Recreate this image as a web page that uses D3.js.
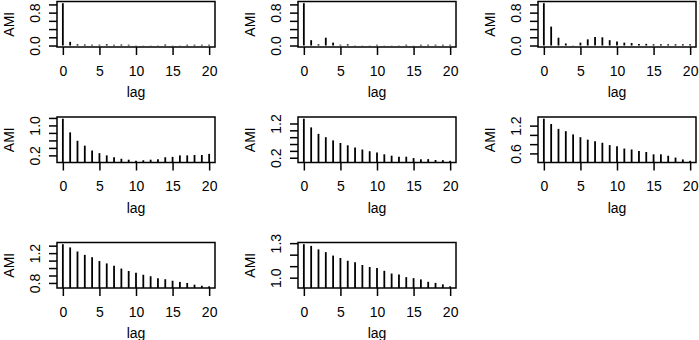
<!DOCTYPE html>
<html>
<head>
<meta charset="utf-8">
<script src="https://cdn.jsdelivr.net/npm/d3@7"></script>
<style>
body { margin: 0; background: #ffffff; }
text { font-family: "Liberation Sans", Arial, sans-serif; fill: #000000; }
</style>
</head>
<body>
<div id="vis"></div>
<script>
// setting constants
const FRAME_WIDTH = 699;
const FRAME_HEIGHT = 340;
const BOX_LEFT = [57, 298, 538];
const BOX_WIDTH = 158;
const BOX_TOP = [1.5, 117, 242.5];
const BOX_HEIGHT = 45.5;
const FONT_SIZE = 14;

// data: lags and AMI values, one array per panel
const LAGS = [0, 1, 2, 3, 4, 5, 6, 7, 8, 9, 10, 11, 12, 13, 14, 15, 16, 17, 18, 19, 20];
const X_TICKS = [0, 5, 10, 15, 20];

const AMI_1 = [1.03, 0.09, 0.03, 0.025, 0.02, 0.02, 0.03, 0.02, 0.025, 0.02, 0.005,
	0.005, 0.005, 0.005, 0.025, 0.005, 0.005, 0.02, 0.02, 0.02, 0.02];
const AMI_2 = [1.03, 0.13, 0.03, 0.19, 0.07, 0.02, 0.03, 0.005, 0.005, 0.005, 0.02,
	0.005, 0.005, 0.005, 0.02, 0.005, 0.02, 0.02, 0.02, 0.02, 0.02];
const AMI_3 = [1.03, 0.46, 0.19, 0.05, 0.005, 0.07, 0.15, 0.21, 0.2, 0.13, 0.1,
	0.07, 0.06, 0.04, 0.04, 0.03, 0.03, 0.03, 0.03, 0.03, 0.03];
const AMI_4 = [1.18, 0.815, 0.59, 0.46, 0.33, 0.26, 0.2, 0.15, 0.11, 0.085, 0.055,
	0.07, 0.085, 0.1, 0.15, 0.16, 0.2, 0.2, 0.21, 0.21, 0.24];
const AMI_5 = [1.34, 1.086, 0.897, 0.8, 0.706, 0.63, 0.563, 0.497, 0.44, 0.39, 0.35,
	0.3, 0.26, 0.23, 0.23, 0.19, 0.155, 0.16, 0.135, 0.13, 0.11];
const AMI_6 = [1.35, 1.236, 1.13, 1.08, 1.01, 0.95, 0.897, 0.86, 0.83, 0.78, 0.755,
	0.705, 0.685, 0.65, 0.63, 0.58, 0.58, 0.55, 0.51, 0.47, 0.44];
const AMI_7 = [1.32, 1.277, 1.222, 1.177, 1.145, 1.094, 1.062, 1.03, 0.993, 0.96, 0.938,
	0.91, 0.89, 0.863, 0.85, 0.83, 0.814, 0.8, 0.777, 0.763, 0.755];
const AMI_8 = [1.291, 1.276, 1.246, 1.222, 1.192, 1.171, 1.147, 1.135, 1.11, 1.093, 1.084,
	1.06, 1.036, 1.027, 1.005, 0.996, 0.985, 0.964, 0.955, 0.942, 0.925];

// y tick marks and the tick labels that are shown
const Y_TICKS_1 = [0.0, 0.2, 0.4, 0.6, 0.8, 1.0];
const Y_LABELS_1 = [0.0, 0.8];
const Y_TICKS_4 = [0.2, 0.4, 0.6, 0.8, 1.0, 1.2];
const Y_LABELS_4 = [0.2, 1.0];
const Y_TICKS_5 = [0.2, 0.4, 0.6, 0.8, 1.0, 1.2];
const Y_LABELS_5 = [0.2, 1.2];
const Y_TICKS_6 = [0.6, 0.8, 1.0, 1.2];
const Y_LABELS_6 = [0.6, 1.2];
const Y_TICKS_7 = [0.8, 0.9, 1.0, 1.1, 1.2, 1.3];
const Y_LABELS_7 = [0.8, 1.2];
const Y_TICKS_8 = [1.0, 1.1, 1.2, 1.3];
const Y_LABELS_8 = [1.0, 1.3];

const PANELS = [
	{ami: AMI_1, yTicks: Y_TICKS_1, yLabels: Y_LABELS_1},
	{ami: AMI_2, yTicks: Y_TICKS_1, yLabels: Y_LABELS_1},
	{ami: AMI_3, yTicks: Y_TICKS_1, yLabels: Y_LABELS_1},
	{ami: AMI_4, yTicks: Y_TICKS_4, yLabels: Y_LABELS_4},
	{ami: AMI_5, yTicks: Y_TICKS_5, yLabels: Y_LABELS_5},
	{ami: AMI_6, yTicks: Y_TICKS_6, yLabels: Y_LABELS_6},
	{ami: AMI_7, yTicks: Y_TICKS_7, yLabels: Y_LABELS_7},
	{ami: AMI_8, yTicks: Y_TICKS_8, yLabels: Y_LABELS_8}
];

// adding frame
const FRAME = d3.select("#vis")
	.append("svg")
	.attr("width", FRAME_WIDTH)
	.attr("height", FRAME_HEIGHT);

PANELS.forEach((p, i) => {
	const col = i % 3;
	const row = Math.floor(i / 3);
	const left = BOX_LEFT[col];
	const top = BOX_TOP[row];
	const bottom = top + BOX_HEIGHT;

	// R style 4% padding on both axes
	const X_SCALE = d3.scaleLinear()
		.domain([-0.8, 20.8])
		.range([left, left + BOX_WIDTH]);

	const lo = d3.min(p.ami);
	const hi = d3.max(p.ami);
	const pad = 0.04 * (hi - lo);
	const Y_SCALE = d3.scaleLinear()
		.domain([lo - pad, hi + pad])
		.range([bottom, top]);

	// lines start at 0, clipped to the plot box
	const base = Y_SCALE(Math.max(0, lo - pad));

	const G = FRAME.append("g");

	G.selectAll(".hline")
		.data(LAGS)
		.enter()
		.append("line")
			.attr("x1", (d) => X_SCALE(d))
			.attr("x2", (d) => X_SCALE(d))
			.attr("y1", base)
			.attr("y2", (d) => Y_SCALE(p.ami[d]))
			.attr("stroke", "#000")
			.attr("stroke-width", 1.8);

	// x axis
	G.append("g")
		.attr("transform", "translate(0," + bottom + ")")
		.call(d3.axisBottom(X_SCALE).tickValues(X_TICKS).tickSize(8).tickSizeOuter(0))
		.call((g) => g.select(".domain").remove())
		.call((g) => g.selectAll(".tick line").attr("stroke-width", 1.5))
		.call((g) => g.selectAll(".tick text")
			.attr("y", 24)
			.attr("dy", "0.35em")
			.attr("font-size", FONT_SIZE));

	// y axis, labels parallel to the axis
	G.append("g")
		.attr("transform", "translate(" + left + ",0)")
		.call(d3.axisLeft(Y_SCALE)
			.tickValues(p.yTicks)
			.tickSize(8)
			.tickSizeOuter(0)
			.tickFormat((d) => p.yLabels.includes(d) ? d3.format(".1f")(d) : ""))
		.call((g) => g.select(".domain").remove())
		.call((g) => g.selectAll(".tick line").attr("stroke-width", 1.5))
		.call((g) => g.selectAll(".tick text")
			.attr("x", 0)
			.attr("dy", 0)
			.attr("transform", "translate(-22,0) rotate(-90)")
			.attr("text-anchor", "middle")
			.attr("dominant-baseline", "central")
			.attr("font-size", FONT_SIZE));

	// box
	G.append("rect")
		.attr("x", left)
		.attr("y", top)
		.attr("width", BOX_WIDTH)
		.attr("height", BOX_HEIGHT)
		.attr("fill", "none")
		.attr("stroke", "#000")
		.attr("stroke-width", 1.5);

	// axis titles
	G.append("text")
		.attr("x", left + BOX_WIDTH / 2)
		.attr("y", bottom + 45)
		.attr("text-anchor", "middle")
		.attr("dominant-baseline", "central")
		.attr("font-size", FONT_SIZE)
		.text("lag");

	G.append("text")
		.attr("transform", "translate(" + (left - 48) + "," + (top + BOX_HEIGHT / 2) + ") rotate(-90)")
		.attr("text-anchor", "middle")
		.attr("dominant-baseline", "central")
		.attr("font-size", FONT_SIZE)
		.text("AMI");
});
</script>
</body>
</html>
